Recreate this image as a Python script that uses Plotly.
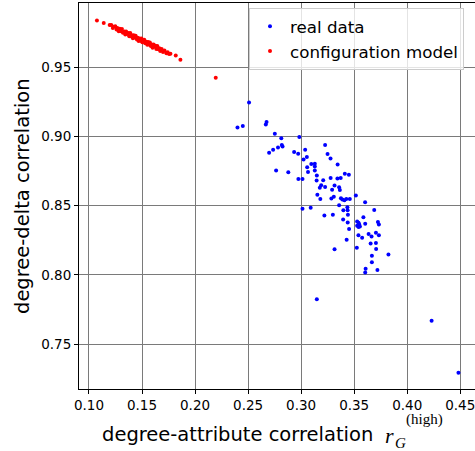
import plotly.graph_objects as go

# ---- data ----
real_x = [0.2509, 0.2400, 0.2450, 0.2674, 0.2667, 0.2752, 0.2813, 0.2983, 0.2698, 0.2736,
          0.2782, 0.2818, 0.2825, 0.2934, 0.2972, 0.3038, 0.3023, 0.3054, 0.3226, 0.3249,
          0.3277, 0.3344, 0.3096, 0.3129, 0.3129, 0.3057, 0.3065, 0.3129, 0.2764, 0.2879,
          0.3148, 0.2974, 0.3013, 0.3146, 0.3208, 0.3278, 0.3342, 0.3373, 0.3412, 0.3450,
          0.3189, 0.3176, 0.3226, 0.3315, 0.3292, 0.3358, 0.3365, 0.3153, 0.3181, 0.3285,
          0.3308, 0.3375, 0.3389, 0.3408, 0.3426, 0.3459, 0.3516, 0.3603, 0.3358, 0.3436,
          0.3013, 0.3090, 0.3398, 0.3438, 0.3689, 0.3219, 0.3299, 0.3441, 0.3396, 0.3439,
          0.3452, 0.3587, 0.3528, 0.3541, 0.3547, 0.3528, 0.3541, 0.3554, 0.3604, 0.3724,
          0.3733, 0.3540, 0.3575, 0.3636, 0.3664, 0.3705, 0.3733, 0.3429, 0.3655, 0.3705,
          0.3315, 0.3525, 0.3707, 0.3823, 0.3667, 0.3667, 0.3608, 0.3604, 0.3719, 0.3148,
          0.4230, 0.4483]
real_y = [0.9244, 0.9064, 0.9074, 0.9103, 0.9086, 0.9018, 0.8986, 0.8995, 0.8881, 0.8903,
          0.8920, 0.8937, 0.8927, 0.8887, 0.8874, 0.8903, 0.8832, 0.8850, 0.8937, 0.8872,
          0.8840, 0.8797, 0.8801, 0.8802, 0.8782, 0.8777, 0.8743, 0.8753, 0.8753, 0.8740,
          0.8717, 0.8692, 0.8693, 0.8681, 0.8683, 0.8699, 0.8696, 0.8699, 0.8730, 0.8722,
          0.8647, 0.8629, 0.8634, 0.8645, 0.8614, 0.8632, 0.8612, 0.8578, 0.8548, 0.8551,
          0.8564, 0.8554, 0.8545, 0.8538, 0.8547, 0.8547, 0.8573, 0.8524, 0.8502, 0.8489,
          0.8477, 0.8484, 0.8467, 0.8466, 0.8468, 0.8429, 0.8435, 0.8435, 0.8400, 0.8378,
          0.8332, 0.8417, 0.8385, 0.8377, 0.8365, 0.8354, 0.8345, 0.8349, 0.8369, 0.8382,
          0.8364, 0.8287, 0.8268, 0.8296, 0.8277, 0.8304, 0.8287, 0.8253, 0.8226, 0.8231,
          0.8186, 0.8197, 0.8188, 0.8147, 0.8138, 0.8091, 0.8044, 0.8018, 0.8035, 0.7825,
          0.7670, 0.7295]

config_x = [0.1075, 0.1139, 0.1195, 0.1210, 0.1225, 0.1232, 0.1248, 0.1260, 0.1268, 0.1281,
            0.1290, 0.1302, 0.1311, 0.1320, 0.1334, 0.1342, 0.1350, 0.1361, 0.1372, 0.1380,
            0.1389, 0.1398, 0.1405, 0.1414, 0.1422, 0.1431, 0.1440, 0.1452, 0.1460, 0.1468,
            0.1479, 0.1488, 0.1495, 0.1503, 0.1512, 0.1521, 0.1530, 0.1541, 0.1550, 0.1558,
            0.1566, 0.1574, 0.1583, 0.1591, 0.1600, 0.1609, 0.1618, 0.1627, 0.1635, 0.1644,
            0.1655, 0.1663, 0.1672, 0.1685, 0.1698, 0.1712, 0.1730, 0.1742, 0.1755, 0.1768,
            0.1818, 0.1862, 0.2195]
config_y = [0.9836, 0.9818, 0.9803, 0.9804, 0.9781, 0.9791, 0.9795, 0.9771, 0.9781, 0.9759,
            0.9777, 0.9759, 0.9774, 0.9747, 0.9756, 0.9735, 0.9756, 0.9739, 0.9746, 0.9723,
            0.9746, 0.9722, 0.9729, 0.9708, 0.9729, 0.9713, 0.9726, 0.9698, 0.9711, 0.9687,
            0.9706, 0.9690, 0.9705, 0.9679, 0.9689, 0.9697, 0.9672, 0.9683, 0.9660, 0.9680,
            0.9663, 0.9677, 0.9652, 0.9663, 0.9640, 0.9662, 0.9646, 0.9654, 0.9631, 0.9652,
            0.9628, 0.9635, 0.9615, 0.9631, 0.9609, 0.9619, 0.9599, 0.9607, 0.9594, 0.9596,
            0.9584, 0.9553, 0.9423]

x_ticks = [0.10, 0.15, 0.20, 0.25, 0.30, 0.35, 0.40, 0.45]
x_tick_labels = ["0.10", "0.15", "0.20", "0.25", "0.30", "0.35", "0.40", "0.45"]
y_ticks = [0.75, 0.80, 0.85, 0.90, 0.95]
y_tick_labels = ["0.75", "0.80", "0.85", "0.90", "0.95"]

W, H = 475, 451
L, R, T, B = 79, 0, 3, 62
PW, PH = W - L - R, H - T - B

def px_x(p):
    return (p - L) / PW

def px_y(p):
    return (H - B - p) / PH

SANS = "DejaVu Sans"
SERIF = "Liberation Serif"

fig = go.Figure()
fig.add_trace(go.Scatter(x=real_x, y=real_y, mode="markers", name="real data",
                         marker=dict(color="#0000ff", size=4, line=dict(width=0))))
fig.add_trace(go.Scatter(x=config_x, y=config_y, mode="markers", name="configuration model",
                         marker=dict(color="#ff0000", size=4, line=dict(width=0))))

axis_common = dict(showgrid=True, gridcolor="#7a7a7a", gridwidth=1.3,
                   zeroline=False, showline=True, linecolor="black", linewidth=1,
                   ticks="outside", ticklen=4, tickwidth=1, tickcolor="black",
                   tickfont=dict(family=SANS, size=13.5, color="black"),
                   ticklabeloverflow="allow",
                   automargin=False)

fig.update_layout(
    width=W, height=H,
    margin=dict(l=L, r=R, t=T, b=B),
    paper_bgcolor="white", plot_bgcolor="white",
    xaxis=dict(range=[0.0906, 0.4639], tickvals=x_ticks, ticktext=x_tick_labels,
               mirror=True, **axis_common),
    yaxis=dict(range=[0.7177, 0.9962], tickvals=y_ticks, ticktext=y_tick_labels,
               mirror=False, **axis_common),
    legend=dict(x=px_x(249), y=px_y(8), xanchor="left", yanchor="top",
                bgcolor="rgba(255,255,255,0.8)", bordercolor="#cccccc", borderwidth=1,
                font=dict(family=SANS, size=16.7, color="black")),
    showlegend=True,
)

annotations = [
    dict(text="degree-delta correlation", textangle=-90, x=px_x(22), y=px_y(196),
         xref="paper", yref="paper", showarrow=False, xanchor="center", yanchor="middle",
         font=dict(family=SANS, size=19.5, color="black")),
    dict(text="degree-attribute correlation", x=px_x(100), y=px_y(434),
         xref="paper", yref="paper", showarrow=False, xanchor="left", yanchor="middle",
         font=dict(family=SANS, size=19.5, color="black")),
    dict(text="<i>r</i>", x=px_x(389), y=px_y(435),
         xref="paper", yref="paper", showarrow=False, xanchor="center", yanchor="middle",
         font=dict(family=SERIF, size=22, color="black")),
    dict(text="<i>G</i>", x=px_x(400), y=px_y(443),
         xref="paper", yref="paper", showarrow=False, xanchor="center", yanchor="middle",
         font=dict(family=SERIF, size=15, color="black")),
    dict(text="(high)", x=px_x(424), y=px_y(419),
         xref="paper", yref="paper", showarrow=False, xanchor="center", yanchor="middle",
         font=dict(family=SERIF, size=15, color="black")),
]
fig.update_layout(annotations=annotations)

fig.write_html(
    "out.html",
    config={"displayModeBar": False},
    post_script="document.documentElement.style.margin='0';"
                "document.body.style.margin='0';document.body.style.padding='0';"
                "document.body.style.overflow='hidden';",
)
